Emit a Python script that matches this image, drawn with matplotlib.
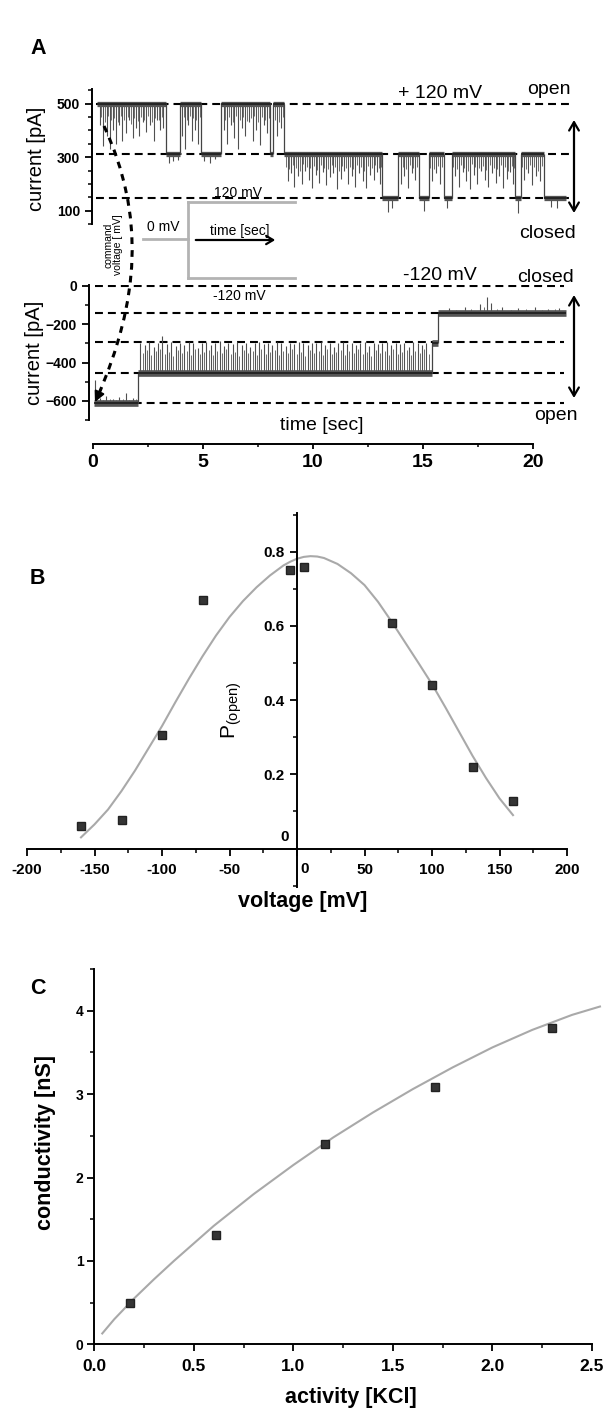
import numpy as np
import matplotlib
matplotlib.use('Agg')
import matplotlib.pyplot as plt
from matplotlib.path import Path
from matplotlib.patches import PathPatch
from matplotlib.ticker import MultipleLocator

plt.rcParams['font.family'] = ['Liberation Sans', 'DejaVu Sans']

W, H = 605, 1408

# -----------------------------
# Panel A: single channel traces
# -----------------------------
# +120 mV trace: dwell start times (s) and current level (pA)
top_t = [0.17, 3.30, 3.95, 4.90, 5.80, 8.05, 8.20, 8.70, 13.15, 13.85, 14.80,
         15.25, 15.95, 16.30, 19.20, 19.45, 20.50, 21.50]
top_lvl = [500, 312, 500, 312, 500, 312, 500, 312, 146, 312, 146,
           312, 146, 312, 146, 312, 146, 146]
# deep closing flickers: time (s) and tip current (pA)
top_spike_t = [0.30, 0.45, 0.62, 0.75, 0.90, 1.05, 1.18, 1.32, 1.50, 1.63, 1.80,
               1.95, 2.10, 2.25, 2.42, 2.58, 2.75, 2.90, 3.05, 3.20,
               3.45, 3.65, 3.85,
               4.05, 4.20, 4.32, 4.50, 4.62, 4.78,
               5.05, 5.30, 5.55,
               5.95, 6.10, 6.28, 6.42, 6.60, 6.75, 6.92, 7.10, 7.25, 7.42, 7.60,
               7.75, 7.92, 8.35, 8.55,
               8.85, 9.00, 9.15, 9.30, 9.48, 9.62, 9.80, 9.95, 10.12, 10.28, 10.45,
               10.60, 10.78, 10.92, 11.10, 11.25, 11.42, 11.58, 11.75, 11.90, 12.08,
               12.25, 12.40, 12.58, 12.75, 12.92, 13.05,
               13.40, 13.60,
               14.00, 14.15, 14.32, 14.48, 14.65,
               15.05,
               15.40, 15.58, 15.75,
               16.10,
               16.45, 16.62, 16.80, 16.95, 17.12, 17.30, 17.45, 17.62, 17.80, 17.95,
               18.12, 18.30, 18.45, 18.62, 18.80, 18.95, 19.10,
               19.30,
               19.60, 19.78, 19.95, 20.12, 20.30,
               20.80, 21.10]
top_spike_tip = [420, 340, 380, 330, 400, 350, 420, 360, 390, 440, 370,
                 410, 380, 430, 395, 420, 360, 440, 400, 410,
                 280, 285, 290,
                 380, 330, 420, 360, 400, 350,
                 285, 280, 295,
                 400, 350, 420, 370, 330, 410, 380, 430, 360, 400, 345,
                 420, 390, 380, 410,
                 210, 240, 190, 230, 200, 250, 215, 185, 235, 205, 245,
                 195, 225, 240, 180, 220, 250, 200, 230, 190, 240,
                 210, 185, 235, 215, 245, 200,
                 95, 110,
                 200, 230, 185, 240, 215,
                 100,
                 210, 240, 200,
                 110,
                 230, 190, 245, 210, 180, 235, 200, 250, 215, 190,
                 240, 205, 230, 185, 220, 245, 200,
                 90,
                 215, 240, 195, 230, 210,
                 115, 110]
# shallow flickers in between
top_flick_t = [0.38, 0.53, 0.68, 0.83, 0.97, 1.12, 1.25, 1.40, 1.57, 1.72, 1.88,
               2.03, 2.18, 2.33, 2.50, 2.67, 2.83, 2.98, 3.13,
               4.12, 4.26, 4.41, 4.56, 4.70, 4.85,
               6.02, 6.20, 6.35, 6.52, 6.68, 6.84, 7.00, 7.18, 7.34, 7.50, 7.68,
               7.84, 8.00, 8.28, 8.45, 8.63,
               8.78, 8.93, 9.08, 9.22, 9.39, 9.55, 9.71, 9.88, 10.03, 10.20, 10.36,
               10.52, 10.69, 10.85, 11.01, 11.17, 11.33, 11.50, 11.66, 11.82, 11.99,
               12.16, 12.32, 12.49, 12.66, 12.83, 12.98, 13.10,
               14.07, 14.24, 14.40, 14.56, 14.73,
               15.32, 15.49, 15.66, 15.85,
               16.38, 16.53, 16.71, 16.88, 17.03, 17.21, 17.38, 17.53, 17.71, 17.88,
               18.03, 18.21, 18.38, 18.53, 18.71, 18.88, 19.03, 19.15,
               19.52, 19.69, 19.87, 20.03, 20.21, 20.40]
top_flick_tip = [450, 430, 455, 440, 445, 430, 455, 440, 450, 425, 445,
                 435, 450, 440, 455, 430, 445, 440, 450,
                 450, 440, 455, 445, 440, 450,
                 440, 450, 430, 455, 440, 450, 435, 445, 455, 430, 450,
                 440, 445, 440, 430, 450,
                 265, 255, 270, 260, 250, 275, 262, 258, 268, 252, 272,
                 260, 255, 270, 262, 250, 268, 258, 265, 255, 270,
                 262, 250, 268, 258, 272, 260, 265,
                 262, 255, 270, 258, 265,
                 260, 255, 268, 262,
                 265, 255, 270, 260, 250, 275, 262, 258, 268, 252,
                 272, 260, 255, 270, 262, 250, 268, 258,
                 265, 255, 270, 262, 250, 268]

# -120 mV trace
bot_t = [0.05, 2.05, 15.40, 15.68, 21.50]
bot_lvl = [-612, -452, -300, -139, -139]
bot_spike_t = [0.08, 0.30, 0.60, 0.90, 1.20, 1.50, 1.80,
               2.15, 2.35, 2.55, 2.75, 2.95, 3.15, 3.35, 3.55, 3.75, 3.95,
               4.15, 4.35, 4.55, 4.75, 4.95, 5.15, 5.35, 5.55, 5.75, 5.95,
               6.15, 6.35, 6.55, 6.75, 6.95, 7.15, 7.35, 7.55, 7.75, 7.95,
               8.15, 8.35, 8.55, 8.75, 8.95, 9.15, 9.35, 9.55, 9.75, 9.95,
               10.15, 10.35, 10.55, 10.75, 10.95, 11.15, 11.35, 11.55, 11.75, 11.95,
               12.15, 12.35, 12.55, 12.75, 12.95, 13.15, 13.35, 13.55, 13.75, 13.95,
               14.15, 14.35, 14.55, 14.75, 14.95, 15.15,
               16.20, 16.90, 17.60, 17.90, 18.10, 18.60, 19.30, 20.10, 20.70, 21.20]
bot_spike_tip = [-490, -585, -575, -590, -580, -560, -585,
                 -300, -310, -295, -320, -300, -260, -305, -295, -315, -300,
                 -310, -295, -300, -325, -300, -295, -310, -300, -290, -315,
                 -300, -305, -295, -310, -300, -320, -300, -295, -305, -300,
                 -310, -295, -300, -315, -300, -305, -295, -300, -310, -300,
                 -300, -295, -310, -300, -320, -300, -295, -305, -300, -310,
                 -300, -295, -315, -300, -305, -300, -295, -310, -300, -305,
                 -300, -320, -295, -300, -310, -300,
                 -115, -110, -95, -60, -90, -110, -115, -112, -118, -115]
bot_flick_t = [0.45, 0.75, 1.05, 1.35, 1.65, 1.95,
               2.25, 2.45, 2.65, 2.85, 3.05, 3.25, 3.45, 3.65, 3.85, 4.05,
               4.25, 4.45, 4.65, 4.85, 5.05, 5.25, 5.45, 5.65, 5.85, 6.05,
               6.25, 6.45, 6.65, 6.85, 7.05, 7.25, 7.45, 7.65, 7.85, 8.05,
               8.25, 8.45, 8.65, 8.85, 9.05, 9.25, 9.45, 9.65, 9.85, 10.05,
               10.25, 10.45, 10.65, 10.85, 11.05, 11.25, 11.45, 11.65, 11.85, 12.05,
               12.25, 12.45, 12.65, 12.85, 13.05, 13.25, 13.45, 13.65, 13.85, 14.05,
               14.25, 14.45, 14.65, 14.85, 15.05, 15.25,
               16.50, 17.20, 17.75, 18.35, 19.00, 19.70, 20.40, 21.00]
bot_flick_tip = [-595, -590, -598, -592, -596, -590,
                 -350, -335, -360, -340, -330, -355, -345, -365, -335, -350,
                 -340, -360, -330, -355, -345, -335, -360, -340, -350, -330,
                 -355, -345, -365, -335, -350, -340, -360, -330, -355, -345,
                 -335, -360, -340, -350, -330, -355, -345, -365, -335, -350,
                 -340, -360, -330, -355, -345, -335, -360, -340, -350, -330,
                 -355, -345, -365, -335, -350, -340, -360, -330, -355, -345,
                 -335, -360, -340, -350, -330, -355,
                 -125, -120, -110, -122, -126, -118, -124, -120]

top_levels = [500, 312, 146]
bot_levels = [0, -139, -295, -452, -612]

# -----------------------------
# Panel B: open probability vs voltage
# -----------------------------
volt = [-160, -130, -100, -70, -5, 5, 70, 100, 130, 160]
p_open = [0.061, 0.078, 0.305, 0.671, 0.750, 0.759, 0.608, 0.442, 0.220, 0.128]
fit_v = [-160, -150, -140, -130, -120, -110, -100, -90, -80, -70, -60, -50, -40,
         -30, -20, -10, -5, 0, 5, 10, 15, 20, 30, 40, 50, 60, 70, 80, 90, 100,
         110, 120, 130, 140, 150, 160]
fit_p = [0.030, 0.065, 0.105, 0.155, 0.210, 0.270, 0.330, 0.395, 0.458, 0.518,
         0.574, 0.624, 0.667, 0.704, 0.736, 0.763, 0.773, 0.781, 0.786, 0.788,
         0.787, 0.783, 0.767, 0.742, 0.710, 0.665, 0.612, 0.556, 0.500, 0.443,
         0.380, 0.315, 0.250, 0.190, 0.135, 0.090]

# -----------------------------
# Panel C: conductance vs KCl activity
# -----------------------------
act = [0.18, 0.61, 1.16, 1.71, 2.30]
cond = [0.49, 1.31, 2.40, 3.08, 3.79]
fit_a = [0.04, 0.1, 0.2, 0.3, 0.4, 0.6, 0.8, 1.0, 1.2, 1.4, 1.6, 1.8, 2.0, 2.2,
         2.4, 2.54]
fit_g = [0.13, 0.30, 0.55, 0.78, 1.00, 1.42, 1.80, 2.15, 2.48, 2.78, 3.06, 3.32,
         3.56, 3.77, 3.95, 4.05]

# -----------------------------
# Layout helpers (pixel boxes)
# -----------------------------
fig = plt.figure(figsize=(W / 100, H / 100), dpi=100)


def px_axes(x0, y0, x1, y1):
    return fig.add_axes([x0 / W, 1 - y1 / H, (x1 - x0) / W, (y1 - y0) / H])


T0_PX, PX_PER_S = 93.0, 22.0
FIT = '#a9a9a9'


def bold_ticks(ax):
    for lbl in ax.get_xticklabels() + ax.get_yticklabels():
        lbl.set_fontweight('bold')


def trace_axes(x0, y0, x1, y1, ylim):
    ax = px_axes(x0, y0, x1, y1)
    ax.set_xlim((x0 - T0_PX) / PX_PER_S, (x1 - T0_PX) / PX_PER_S)
    ax.set_ylim(*ylim)
    for s in ['top', 'right', 'bottom']:
        ax.spines[s].set_visible(False)
    ax.spines['left'].set_linewidth(1.4)
    ax.set_xticks([])
    ax.patch.set_alpha(0)
    ax.tick_params(axis='y', which='major', length=4.8, width=1.3, pad=3.5, labelsize=10)
    ax.tick_params(axis='y', which='minor', length=2.8, width=1.1)
    return ax


def draw_trace(ax, t, lvl, sp_t, sp_tip, fl_t, fl_tip, band):
    t = np.asarray(t)
    lvl = np.asarray(lvl)
    # noisy band + dark core for each dwell
    ax.hlines(lvl[:-1], t[:-1], t[1:], colors='#555555', lw=band, zorder=3)
    ax.hlines(lvl[:-1], t[:-1], t[1:], colors='#1c1c1c', lw=1.2, zorder=4)
    # transitions
    ax.vlines(t[1:-1], lvl[:-2], lvl[1:-1], colors='#444444', lw=0.9, zorder=3)
    for st, tip, c, w in [(sp_t, sp_tip, '#505050', 0.8), (fl_t, fl_tip, '#6c6c6c', 0.7)]:
        idx = np.searchsorted(t, st, side='right') - 1
        ax.vlines(st, lvl[idx], tip, colors=c, lw=w, zorder=2)


# top trace (+120 mV)
axt = trace_axes(91.7, 89, 585, 224, (50, 555))
axt.hlines(top_levels, 0.15, 21.75, colors='k', lw=1.5, linestyles=(0, (3.8, 2.4)), zorder=1)
draw_trace(axt, top_t, top_lvl, top_spike_t, top_spike_tip, top_flick_t, top_flick_tip, 3.8)
axt.set_yticks([100, 300, 500])
axt.yaxis.set_minor_locator(MultipleLocator(50))
bold_ticks(axt)

# bottom trace (-120 mV)
axb = trace_axes(88.5, 285, 585, 420, (-700, 5))
axb.hlines(bot_levels, 0.08, 21.4, colors='k', lw=1.5, linestyles=(0, (3.8, 2.4)), zorder=1)
draw_trace(axb, bot_t, bot_lvl, bot_spike_t, bot_spike_tip, bot_flick_t, bot_flick_tip, 4.8)
axb.set_yticks([0, -200, -400, -600])
axb.yaxis.set_minor_locator(MultipleLocator(100))
bold_ticks(axb)

# shared time axis
axx = px_axes(93, 400, 533, 444)
axx.set_xlim(0, 20)
axx.set_yticks([])
axx.patch.set_alpha(0)
for s in ['top', 'right', 'left']:
    axx.spines[s].set_visible(False)
axx.spines['bottom'].set_linewidth(1.4)
axx.set_xticks([0, 5, 10, 15, 20])
axx.xaxis.set_minor_locator(MultipleLocator(2.5))
axx.tick_params(axis='x', which='major', length=3.5, width=1.3, pad=4, labelsize=14)
axx.tick_params(axis='x', which='minor', length=2.5, width=1.1)
bold_ticks(axx)

# -----------------------------
# Panel B
# -----------------------------
B_ZERO, B_SCALE = 848.5, 371.0
ylo, yhi = -0.105, 0.905
axB = px_axes(27, B_ZERO - yhi * B_SCALE, 567, B_ZERO - ylo * B_SCALE)
axB.set_xlim(-200, 200)
axB.set_ylim(ylo, yhi)
axB.spines['left'].set_position(('data', 0))
axB.spines['bottom'].set_position(('data', 0))
axB.spines['top'].set_visible(False)
axB.spines['right'].set_visible(False)
for s in ['left', 'bottom']:
    axB.spines[s].set_linewidth(1.4)
axB.plot(fit_v, fit_p, color=FIT, lw=1.5, zorder=2)
axB.plot(volt, p_open, 's', color='#353535', mec='#222222', ms=6, zorder=3)
xt = [-200, -150, -100, -50, 0, 50, 100, 150, 200]
axB.set_xticks(xt)
axB.set_xticklabels(['' if v == 0 else str(v) for v in xt])
yt = [0, 0.2, 0.4, 0.6, 0.8]
axB.set_yticks(yt)
axB.set_yticklabels(['' if v == 0 else f'{v:.1f}' for v in yt])
axB.xaxis.set_minor_locator(MultipleLocator(25))
axB.yaxis.set_minor_locator(MultipleLocator(0.1))
axB.tick_params(axis='both', which='major', length=4.8, width=1.3, labelsize=11)
axB.tick_params(axis='x', which='major', pad=5.5)
axB.tick_params(axis='y', which='major', pad=4)
axB.tick_params(axis='both', which='minor', length=2.8, width=1.1)
axB.patch.set_alpha(0)
bold_ticks(axB)
axB.annotate('0', xy=(0, 0), xytext=(-12, 12), textcoords='offset pixels',
             ha='center', va='center', fontsize=11, fontweight='bold')
axB.annotate('0', xy=(0, 0), xytext=(7.5, -20), textcoords='offset pixels',
             ha='center', va='center', fontsize=11, fontweight='bold')

# -----------------------------
# Panel C
# -----------------------------
axC = px_axes(94.3, 969, 592, 1344.3)
axC.set_xlim(0, 2.5)
axC.set_ylim(0, 4.5)
axC.spines['top'].set_visible(False)
axC.spines['right'].set_visible(False)
for s in ['left', 'bottom']:
    axC.spines[s].set_linewidth(1.4)
axC.plot(fit_a, fit_g, color=FIT, lw=1.5, zorder=2, clip_on=False)
axC.plot(act, cond, 's', color='#353535', mec='#222222', ms=6, zorder=3, clip_on=False)
axC.set_xticks([0, 0.5, 1.0, 1.5, 2.0, 2.5])
axC.set_xticklabels(['0.0', '0.5', '1.0', '1.5', '2.0', '2.5'])
axC.set_yticks([0, 1, 2, 3, 4])
axC.xaxis.set_minor_locator(MultipleLocator(0.25))
axC.yaxis.set_minor_locator(MultipleLocator(0.5))
axC.tick_params(axis='x', which='major', length=4.8, width=1.3, labelsize=12.5, pad=5.5)
axC.tick_params(axis='y', which='major', length=4.8, width=1.3, labelsize=10, pad=3)
axC.tick_params(axis='both', which='minor', length=2.8, width=1.1)
axC.patch.set_alpha(0)
bold_ticks(axC)

# -----------------------------
# Overlay for labels and schematic (pixel coordinates)
# -----------------------------
ov = fig.add_axes([0, 0, 1, 1], zorder=10)
ov.set_xlim(0, W)
ov.set_ylim(H, 0)
ov.axis('off')
ov.patch.set_alpha(0)


def label(x, y, s, size, weight='normal', rot=0, **kw):
    ov.text(x, y, s, fontsize=size, fontweight=weight, rotation=rot,
            ha='center', va='center', **kw)


label(38, 48, 'A', 15.5, 'bold')
label(37, 578, 'B', 15.5, 'bold')
label(38, 988, 'C', 15.5, 'bold')

label(440, 93, '+ 120 mV', 14)
label(549, 90, 'open', 14)
label(548, 233, 'closed', 14)
label(440, 275, '-120 mV', 14)
label(545, 277, 'closed', 14)
label(556, 415, 'open', 14)
label(322, 425, 'time [sec]', 14)
label(37, 159, 'current [pA]', 14.5, rot=90)
label(35, 353, 'current [pA]', 14.5, rot=90)

label(238, 193, '120 mV', 10)
label(163, 227, '0 mV', 10)
label(240, 231, 'time [sec]', 10)
label(239, 296, '-120 mV', 10)
label(113, 245, 'command\nvoltage [ mV]', 7.5, rot=90, linespacing=1.0)

label(232, 710, r'P$_{\mathregular{(open)}}$', 15, rot=90)
label(303, 902, 'voltage [mV]', 15.5, 'bold')
label(46, 1143, 'conductivity [nS]', 15.5, 'bold', rot=90)
label(351, 1397, 'activity [KCl]', 15.5, 'bold')

# command voltage step (grey)
GREY = '#b3b3b3'
ov.plot([143, 188], [239, 239], color=GREY, lw=2)
ov.plot([188, 188], [202, 278], color=GREY, lw=2)
ov.plot([188, 295], [202, 202], color=GREY, lw=2)
ov.plot([188, 295], [278, 278], color=GREY, lw=2)
ov.annotate('', xy=(278, 240), xytext=(193, 240),
            arrowprops=dict(arrowstyle='->,head_length=0.5,head_width=0.3', color='k', lw=1.6))

# open/closed double arrows
for y0, y1 in [(120, 213), (295, 398)]:
    ov.annotate('', xy=(574, y0), xytext=(574, y1),
                arrowprops=dict(arrowstyle='<->,head_length=0.6,head_width=0.35',
                                color='k', lw=1.6, shrinkA=0, shrinkB=0))

# dashed arrow linking the two traces
curve = Path([(104, 126), (145, 215), (140, 300), (97, 398)],
             [Path.MOVETO, Path.CURVE4, Path.CURVE4, Path.CURVE4])
ov.add_patch(PathPatch(curve, fill=False, color='k', lw=2.2, linestyle=(0, (2.2, 2.0))))
ov.annotate('', xy=(95, 402), xytext=(101, 389),
            arrowprops=dict(arrowstyle='-|>,head_length=0.6,head_width=0.3', color='k',
                            lw=1.5, shrinkA=0, shrinkB=0))

fig.savefig('out.png', dpi=100)
